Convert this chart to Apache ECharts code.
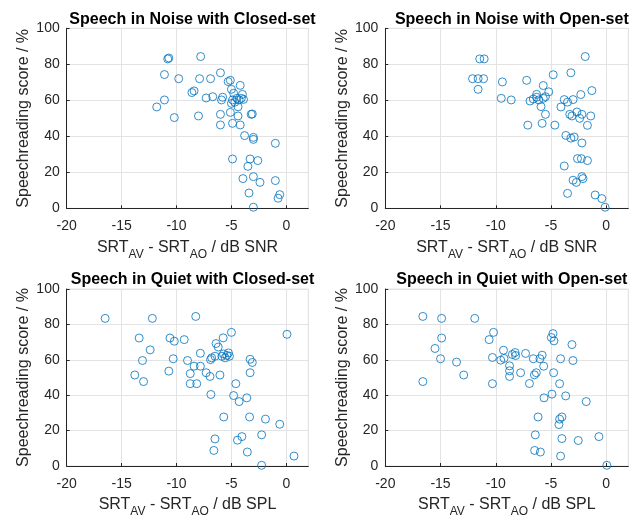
<!DOCTYPE html>
<html>
<head>
<meta charset="utf-8">
<script src="https://cdn.jsdelivr.net/npm/echarts@6/dist/echarts.min.js"></script>
<style>html,body{margin:0;padding:0;background:#fff}#c{width:631px;height:519px}</style>
</head>
<body>
<div id="c"></div>
<script>
// Panel titles
const titles = ['Speech in Noise with Closed-set', 'Speech in Noise with Open-set', 'Speech in Quiet with Closed-set', 'Speech in Quiet with Open-set'];
const xUnits = ['dB SNR', 'dB SNR', 'dB SPL', 'dB SPL'];
const yTicks = [0, 20, 40, 60, 80, 100];
const xTicks = [-20, -15, -10, -5, 0];

// [SRT_AV - SRT_AO, speechreading score]
const noiseClosed = [
  [-10.8, 83], [-10.7, 83.5], [-7.8, 84.3], [-11.1, 74.3], [-9.8, 72], [-7.9, 72], [-6.9, 72], [-6.0, 75.3],
  [-5.3, 70.4], [-5.1, 71.1], [-4.2, 68.3], [-5.0, 66.1], [-8.6, 64.3], [-8.4, 65.2], [-7.3, 61.3], [-6.7, 62],
  [-5.8, 61.7], [-5.9, 60.2], [-4.8, 63.9], [-4.0, 63.3], [-4.9, 60.2], [-4.5, 61.1], [-4.3, 60.2], [-4.1, 61.1],
  [-3.9, 60.5], [-5.0, 58.3], [-4.7, 58.9], [-4.4, 56.4], [-11.1, 60.2], [-11.8, 56.3], [-10.2, 50.4], [-8.0, 51.3],
  [-6.0, 52.2], [-6.0, 46.3], [-4.9, 47.2], [-4.2, 46.3], [-4.4, 51.3], [-5.1, 53.3], [-3.2, 52.2], [-3.1, 52.4],
  [-3.8, 40.4], [-3.0, 39.4], [-3.0, 38.3], [-1.0, 36.1], [-4.9, 27.4], [-3.3, 27.4], [-2.6, 26.5], [-3.5, 23.3],
  [-3.95, 16.5], [-3.0, 17.6], [-2.4, 14.4], [-1.0, 15.4], [-3.4, 8.5], [-0.6, 7.6], [-0.75, 5.6], [-3.0, 0.6]
];
const noiseOpen = [
  [-11.45, 83], [-11.05, 83], [-1.9, 84.3], [-12.1, 72], [-11.6, 72], [-11.1, 72], [-11.6, 66.1], [-9.4, 70.2],
  [-7.2, 71.1], [-4.8, 74.2], [-3.2, 75.3], [-1.3, 65.4], [-2.3, 63.2], [-5.7, 68.2], [-5.2, 64.7], [-9.5, 61.1],
  [-8.6, 60.2], [-6.3, 63.3], [-5.5, 62], [-6.9, 59.6], [-6.6, 60.7], [-6.3, 61.7], [-6.1, 60.2], [-5.7, 61.1],
  [-5.9, 56.5], [-5.5, 52.2], [-7.1, 46.2], [-5.8, 47.2], [-4.65, 46.2], [-3.8, 60.4], [-3.5, 59], [-3.0, 60.4],
  [-4.1, 56.3], [-3.3, 52.2], [-3.1, 51.3], [-2.65, 53.5], [-2.2, 52.2], [-2.4, 50], [-1.4, 51.3], [-1.7, 46.1],
  [-3.65, 40.5], [-3.2, 39], [-2.9, 39.6], [-2.2, 36.3], [-2.6, 27.6], [-2.25, 27.6], [-1.7, 26.5], [-3.8, 23.5],
  [-3.0, 15.6], [-2.7, 14.4], [-2.2, 17.6], [-2.1, 16.5], [-3.5, 8.3], [-1.0, 7.4], [-0.4, 5.4], [-0.1, 0.6]
];
const quietClosed = [
  [-16.5, 83.4], [-12.2, 83.4], [-8.25, 84.5], [-13.4, 72.3], [-10.6, 72.3], [-10.2, 70.5], [-9.3, 71.4], [-5.0, 75.5],
  [-5.75, 72.4], [0.06, 74.4], [-12.4, 65.6], [-13.1, 59.6], [-13.8, 51.4], [-13.0, 47.7], [-10.7, 53.6], [-10.3, 60.6],
  [-9.0, 59.6], [-8.4, 56.4], [-7.83, 56.4], [-7.83, 63.7], [-8.75, 52.2], [-8.75, 46.5], [-8.16, 46.5], [-7.3, 52.7],
  [-6.95, 50.6], [-6.05, 51.4], [-6.87, 40.4], [-6.4, 69.2], [-6.2, 67.2], [-6.8, 61.1], [-6.5, 62], [-6.9, 60.1],
  [-5.87, 62], [-5.72, 63.3], [-5.57, 61.1], [-5.42, 62.5], [-5.27, 63.9], [-5.18, 62], [-3.3, 60.3], [-3.1, 58.5],
  [-3.3, 52.7], [-4.6, 46.5], [-4.8, 39.8], [-4.3, 36.4], [-3.6, 38.5], [-5.7, 27.7], [-3.35, 27.7], [-1.9, 26.5],
  [-0.6, 23.6], [-2.25, 17.6], [-4.05, 16.6], [-4.45, 14.6], [-6.5, 15.3], [-6.6, 8.8], [-3.55, 7.9], [0.7, 5.6],
  [-2.25, 0.4]
];
const quietOpen = [
  [-16.6, 84.5], [-14.9, 83.4], [-11.9, 83.4], [-14.9, 72.3], [-15.5, 66.4], [-15.0, 60.6], [-13.55, 58.7], [-12.9, 51.4],
  [-16.6, 47.7], [-10.2, 75.5], [-10.6, 71.4], [-10.3, 61.3], [-10.3, 46.5], [-9.3, 65.4], [-9.55, 59.8], [-9.25, 60.8],
  [-8.5, 63], [-8.25, 64.1], [-8.2, 62.4], [-8.75, 56.6], [-8.75, 53.8], [-8.75, 50.6], [-7.75, 52.7], [-7.3, 63.6],
  [-6.95, 46.6], [-6.6, 60.6], [-6.0, 60.6], [-5.8, 62.6], [-5.66, 56.4], [-6.5, 51.5], [-6.33, 52.7], [-4.82, 74.8],
  [-4.97, 72.6], [-4.73, 70.7], [-3.1, 68.6], [-4.13, 60.6], [-3.01, 59.6], [-4.76, 52.7], [-4.22, 46.5], [-4.91, 40.6],
  [-5.63, 38.5], [-3.67, 39.6], [-1.81, 36.4], [-6.17, 27.7], [-4.22, 26.5], [-4.01, 27.7], [-4.28, 23.4], [-6.42, 17.6],
  [-4.01, 15.5], [-2.53, 14.4], [-0.66, 16.6], [-6.48, 8.8], [-5.96, 7.9], [-4.13, 5.6], [0.06, 0.4]
];
const panels = [noiseClosed, noiseOpen, quietClosed, quietOpen];

const FONT = 'Liberation Sans, Arial, Helvetica, sans-serif';
const AX = '#262626';
const gridPos = [
  { left: 66.7, right: 322.7, top: 28.3, height: 180 },
  { left: 385.3, right: 2.7, top: 28.3, height: 180 },
  { left: 66.7, right: 322.7, top: 289, height: 178.3 },
  { left: 385.3, right: 2.7, top: 289, height: 178.3 }
];

const grid = [], xAxis = [], yAxis = [], series = [], title = [];
gridPos.forEach((g, i) => {
  grid.push(Object.assign({ show: true, borderColor: '#e3e3e3', borderWidth: 1, containLabel: false }, g));
  const cx = g.left + (631 - g.left - g.right) / 2;
  title.push({
    text: titles[i], left: cx, textAlign: 'center', top: g.top - 22,
    textStyle: { fontFamily: FONT, fontSize: 16, fontWeight: 'bold', color: '#000' }
  });
  xAxis.push({
    gridIndex: i, type: 'value', min: -20, max: 2, interval: 5,
    name: '{m|SRT}{s|AV}{m| - SRT}{s|AO}{m| / ' + xUnits[i] + '}',
    nameLocation: 'middle', nameGap: 31,
    nameTextStyle: {
      rich: {
        m: { fontFamily: FONT, fontSize: 16, color: AX, lineHeight: 18, verticalAlign: 'top' },
        s: { fontFamily: FONT, fontSize: 12, color: AX, lineHeight: 14, verticalAlign: 'top', padding: [9, 0, 0, 0] }
      }
    },
    axisLine: { show: true, onZero: false, lineStyle: { color: AX, width: 1 } },
    axisTick: { show: true, inside: true, length: 3, lineStyle: { color: AX } },
    axisLabel: { fontFamily: FONT, fontSize: 14, color: AX, margin: 11, showMaxLabel: false,
      formatter: v => (xTicks.indexOf(v) >= 0 ? String(v) : '') },
    splitLine: { show: true, lineStyle: { color: '#e3e3e3', width: 1 } }
  });
  yAxis.push({
    gridIndex: i, type: 'value', min: 0, max: 100, interval: 20,
    name: 'Speechreading score / %', nameLocation: 'middle', nameGap: 35,
    nameTextStyle: { fontFamily: FONT, fontSize: 16, color: AX },
    axisLine: { show: true, onZero: false, lineStyle: { color: AX, width: 1 } },
    axisTick: { show: true, inside: true, length: 3, lineStyle: { color: AX } },
    axisLabel: { fontFamily: FONT, fontSize: 14, color: AX, margin: 7,
      formatter: v => (yTicks.indexOf(v) >= 0 ? String(v) : '') },
    splitLine: { show: true, lineStyle: { color: '#e3e3e3', width: 1 } }
  });
  series.push({
    type: 'scatter', xAxisIndex: i, yAxisIndex: i, data: panels[i],
    symbol: 'circle', symbolSize: 8,
    itemStyle: { color: 'rgba(0,0,0,0)', borderColor: '#0072BD', borderWidth: 1 },
    emphasis: { disabled: true }
  });
});

const chart = echarts.init(document.getElementById('c'), null, { renderer: 'canvas' });
chart.setOption({ animation: false, backgroundColor: '#fff', title, grid, xAxis, yAxis, series });
</script>
</body>
</html>
